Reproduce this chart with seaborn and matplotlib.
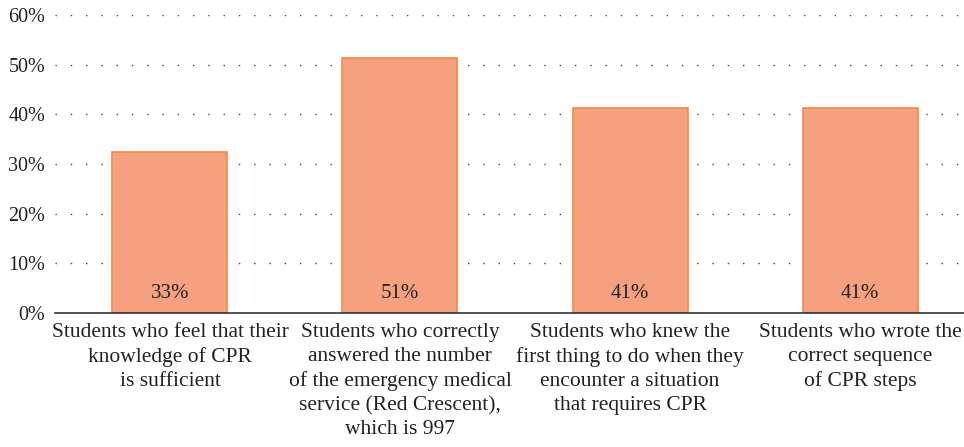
import matplotlib
matplotlib.use("Agg")
import matplotlib.pyplot as plt
import seaborn as sns
import pandas as pd
from matplotlib.ticker import FuncFormatter

categories = [
    "Students who feel that their\nknowledge of CPR\nis sufficient",
    "Students who correctly\nanswered the number\nof the emergency medical\nservice (Red Crescent),\nwhich is 997",
    "Students who knew the\nfirst thing to do when they\nencounter a situation\nthat requires CPR",
    "Students who wrote the\ncorrect sequence\nof CPR steps",
]
values = [32.4, 51.3, 41.3, 41.3]
value_labels = ["33%", "51%", "41%", "41%"]
y_ticks = [0, 10, 20, 30, 40, 50, 60]

sns.set_theme(style="white")
plt.rcParams["font.family"] = ["Liberation Serif", "DejaVu Serif"]

df = pd.DataFrame({"category": categories, "value": values})

fig = plt.figure(figsize=(9.64, 4.47), dpi=100)
ax = fig.add_axes([0.057, 0.2998, 0.943, 0.6666])

sns.barplot(data=df, x="category", y="value", ax=ax, color="#F5A07E",
            edgecolor="#F5884A", linewidth=1.2, width=0.5, saturation=1, zorder=2)

ax.set_xlim(-0.5, 3.452)
ax.set_ylim(0, 60)
ax.set_yticks(y_ticks)
ax.yaxis.set_major_formatter(FuncFormatter(lambda v, p: f"{v:.0f}%"))
ax.set_xlabel("")
ax.set_ylabel("")

for y in y_ticks[1:]:
    ax.axhline(y, color="#444444", linestyle=(0, (1, 10)), linewidth=1.0, zorder=1)

for sp in ["top", "right", "left"]:
    ax.spines[sp].set_visible(False)
ax.spines["bottom"].set_color("#333333")
ax.spines["bottom"].set_linewidth(1.2)
ax.spines["bottom"].set_zorder(3)

ax.tick_params(axis="x", length=0, labelsize=15.5, colors="#222222", pad=7)
ax.tick_params(axis="y", length=0, labelsize=14.5, colors="#222222", pad=7)
ax.set_xticks(range(len(categories)))
ax.set_xticklabels(categories, linespacing=1.36)

for i, lab in enumerate(value_labels):
    ax.text(i, 4, lab, ha="center", va="center", fontsize=15, color="#222222", zorder=4)

fig.savefig("out.png", dpi=100)
